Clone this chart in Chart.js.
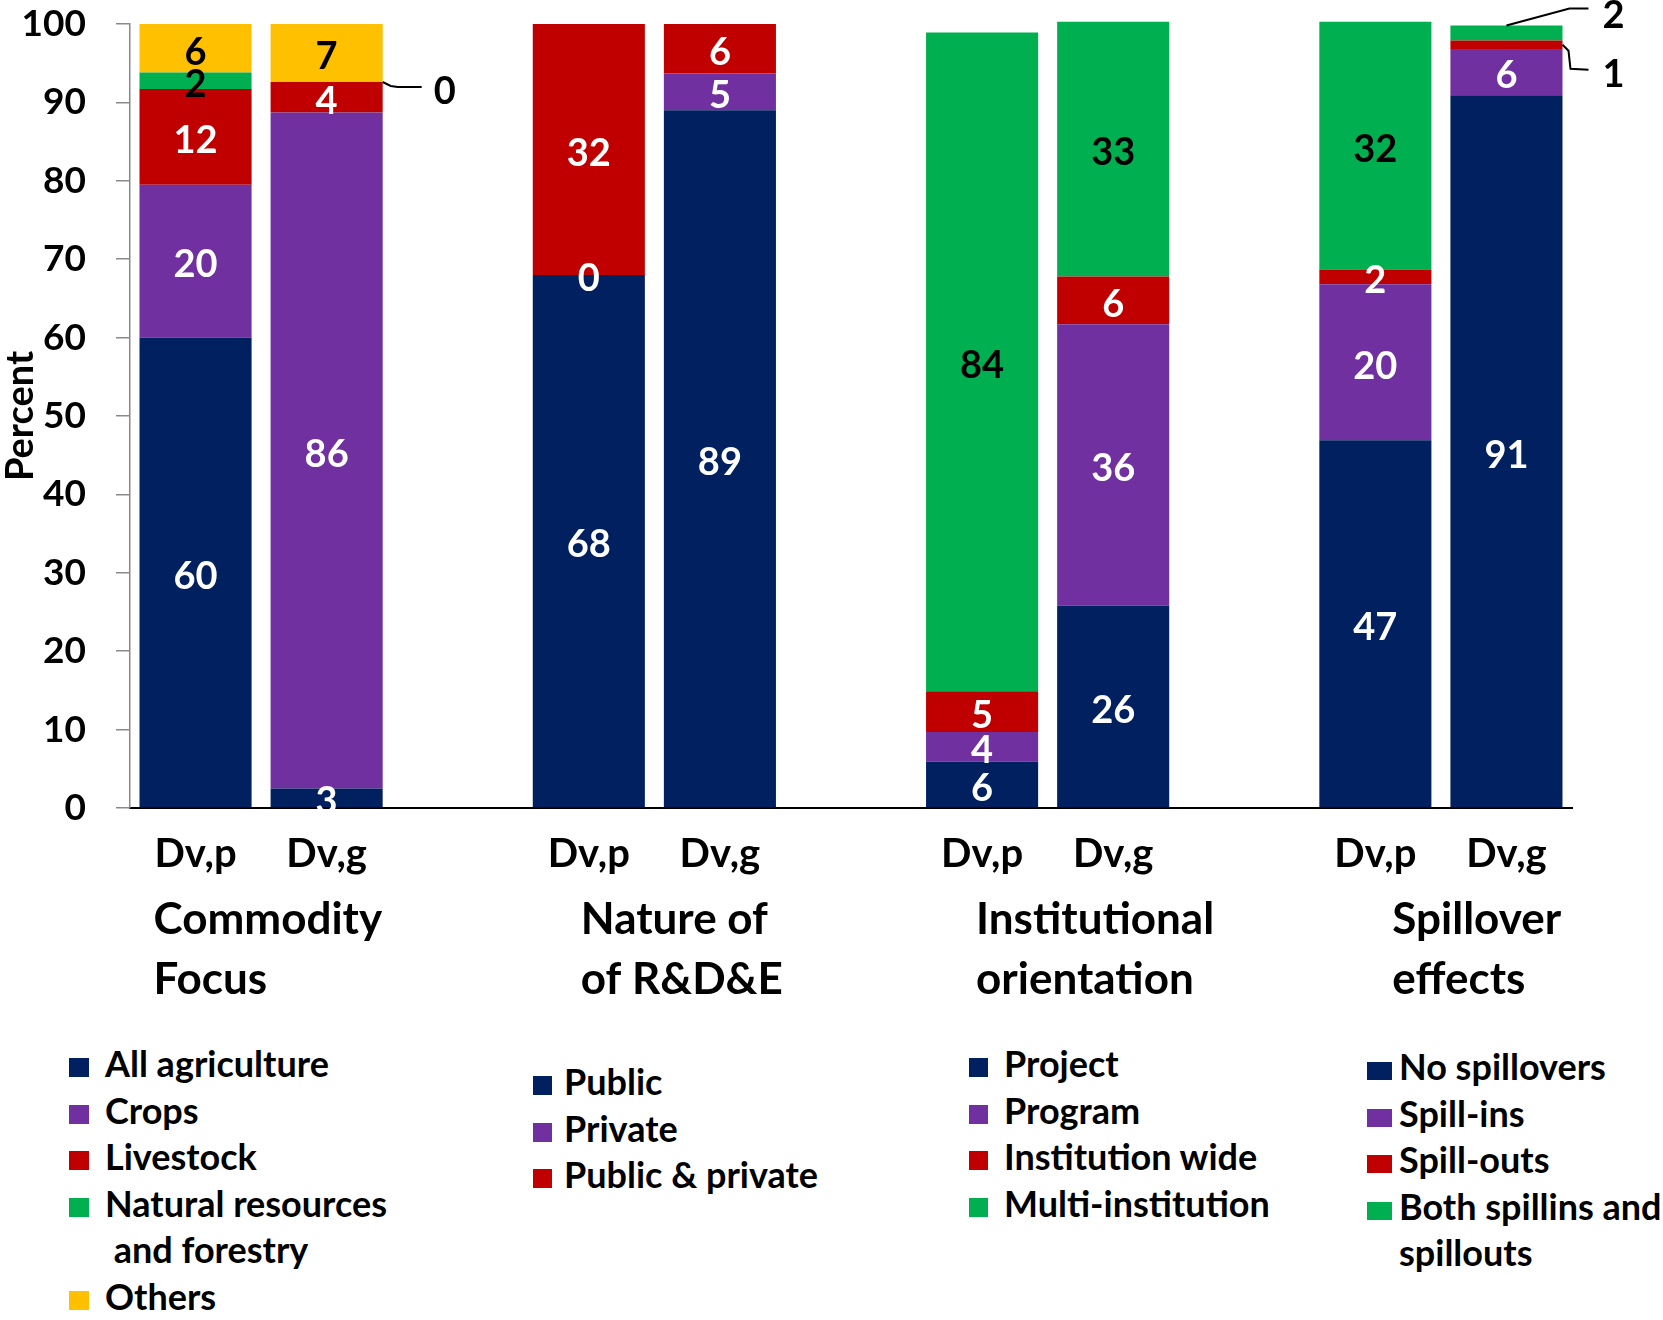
<!DOCTYPE html>
<html lang="en">
<head>
<meta charset="UTF-8">
<meta name="viewport" content="width=device-width, initial-scale=1.0">
<title>R&D&E characteristics, Dv,p and Dv,g</title>
<script src="https://cdn.jsdelivr.net/npm/chart.js"></script>
<style>
  body { margin: 0; background: #fff; }
  #wrap { position: relative; width: 1663px; height: 1320px; }
  #chart-box { position: absolute; left: 0; top: 0; width: 1663px; height: 1010px; }
  .legend-col { position: absolute; font: bold 36px Lato, sans-serif; line-height: 46.6px; color: #000; }
  .legend-item { position: relative; white-space: pre; }
  .legend-item .sw { position: absolute; left: 0; }
</style>
</head>
<body>
<div id="wrap">
  <div id="chart-box"><canvas id="graphique"></canvas></div>
  <div id="legende"></div>
</div>

<script>
// groupes et barres
const groups = ['Commodity\nFocus', 'Nature of\nof R&D&E', 'Institutional\norientation', 'Spillover\neffects'];
const barLabels = ['Dv,p', 'Dv,g'];
const yTickValues = [0, 10, 20, 30, 40, 50, 60, 70, 80, 90, 100];

// Commodity focus
const commoditySeries = ['All agriculture', 'Crops', 'Livestock', 'Natural resources\n and forestry', 'Others'];
const commodityDvp = [60, 19.5, 12.2, 2.1, 6.2];
const commodityDvg = [2.5, 86.2, 3.9, 0, 7.4];

// Nature of R&D&E
const natureSeries = ['Public', 'Private', 'Public & private'];
const natureDvp = [68, 0, 32];
const natureDvg = [89, 4.7, 6.3];

// Institutional orientation
const institutionSeries = ['Project', 'Program', 'Institution wide', 'Multi-institution'];
const institutionDvp = [5.9, 3.8, 5.2, 84];
const institutionDvg = [25.8, 35.9, 6.1, 32.5];

// Spillover effects
const spilloverSeries = ['No spillovers', 'Spill-ins', 'Spill-outs', 'Both spillins and\nspillouts'];
const spilloverDvp = [46.9, 19.9, 1.9, 31.6];
const spilloverDvg = [90.9, 5.9, 1.1, 1.9];

const levelColors = ['#002060', '#7030A0', '#C00000', '#00B050', '#FFC000'];

// étiquettes sorties de la barre (avec trait de rappel)
const callouts = [
    { group: 0, series: 3, bar: 1, anchor: 'right', path: [[8, 4], [15, 5], [39, 5]], text: [62, 8] },
    { group: 3, series: 3, bar: 1, anchor: 'top', path: [[63, -17], [82, -17]], text: [107, -12] },
    { group: 3, series: 2, bar: 1, anchor: 'right', path: [[6, 6], [8, 24], [26, 25]], text: [51, 28] }
];

// décalage des titres de groupe par rapport à la première barre
const titleOffsets = [-42, -8, -6, 17];

const groupData = [
    { series: commoditySeries, values: [commodityDvp, commodityDvg] },
    { series: natureSeries, values: [natureDvp, natureDvg] },
    { series: institutionSeries, values: [institutionDvp, institutionDvg] },
    { series: spilloverSeries, values: [spilloverDvp, spilloverDvg] }
];

// une case vide entre les groupes
const labels = [];
const groupSlots = [];
groups.forEach((g, gi) => {
    if (gi > 0) labels.push('');
    groupSlots.push(labels.length);
    barLabels.forEach(b => labels.push(b));
});

const datasets = [];
groupData.forEach((grp, gi) => {
    grp.series.forEach((name, si) => {
        const data = labels.map(() => null);
        grp.values.forEach((vals, bi) => { data[groupSlots[gi] + bi] = vals[si]; });
        datasets.push({
            label: name.replace(/\n\s*/, ' '),
            legendText: name,
            data: data,
            backgroundColor: levelColors[si],
            borderWidth: 0,
            level: si,
            group: gi,
            stack: 'all',
            barPercentage: 0.855,
            categoryPercentage: 1,
            clip: false
        });
    });
});

const barValueLabels = {
    id: 'barValueLabels',
    afterDatasetsDraw(chart) {
        const ctx = chart.ctx;
        ctx.save();
        ctx.font = 'bold 38px Lato, sans-serif';
        ctx.textAlign = 'center';
        ctx.textBaseline = 'middle';
        chart.data.datasets.forEach((ds, di) => {
            const meta = chart.getDatasetMeta(di);
            meta.data.forEach((el, i) => {
                const v = ds.data[i];
                if (v === null) return;
                const txt = String(Math.round(v));
                const bar = i - groupSlots[ds.group];
                const co = callouts.find(c => c.group === ds.group && c.series === ds.level && c.bar === bar);
                if (co) {
                    let ax, ay;
                    if (co.anchor === 'top') { ax = el.x; ay = el.y; }
                    else { ax = el.x + el.width / 2; ay = (el.y + el.base) / 2; }
                    ctx.strokeStyle = '#000';
                    ctx.lineWidth = 2;
                    ctx.beginPath();
                    ctx.moveTo(ax, ay);
                    co.path.forEach(p => ctx.lineTo(ax + p[0], ay + p[1]));
                    ctx.stroke();
                    ctx.fillStyle = '#000';
                    ctx.fillText(txt, ax + co.text[0], ay + co.text[1] + 2);
                } else {
                    ctx.fillStyle = ds.level >= 3 ? '#000' : '#fff';
                    ctx.fillText(txt, el.x, (el.y + el.base) / 2 + 4);
                }
            });
        });
        ctx.restore();
    }
};

const groupTitles = {
    id: 'groupTitles',
    afterDraw(chart) {
        const ctx = chart.ctx;
        const x = chart.scales.x;
        ctx.save();
        ctx.font = 'bold 44px Lato, sans-serif';
        ctx.fillStyle = '#000';
        ctx.textAlign = 'left';
        ctx.textBaseline = 'middle';
        groups.forEach((g, gi) => {
            const left = x.getPixelForValue(groupSlots[gi]) + titleOffsets[gi];
            g.split('\n').forEach((line, li) => {
                ctx.fillText(line, left, chart.chartArea.bottom + 112 + li * 60);
            });
        });
        ctx.restore();
    }
};

Chart.defaults.font.family = 'Lato, sans-serif';

const chart = new Chart(document.getElementById('graphique'), {
    type: 'bar',
    data: { labels: labels, datasets: datasets },
    options: {
        responsive: true,
        maintainAspectRatio: false,
        animation: false,
        layout: { padding: { top: 24, right: 91, left: 0, bottom: 0 } },
        plugins: {
            legend: { display: false },
            tooltip: { enabled: false }
        },
        scales: {
            x: {
                stacked: true,
                ticks: { font: { size: 40, weight: 'bold' }, color: '#000', padding: 22, autoSkip: false, maxRotation: 0 },
                grid: { display: false, drawTicks: false },
                border: { color: '#000', width: 2 },
                afterFit: s => { s.height = 1010 - 808; s.paddingLeft = 0; s.paddingRight = 0; }
            },
            y: {
                stacked: true,
                min: 0,
                max: 100,
                afterBuildTicks: s => { s.ticks = yTickValues.map(v => ({ value: v })); },
                ticks: { font: { size: 37, weight: 'bold' }, color: '#000', padding: 30 },
                grid: { drawOnChartArea: false, drawTicks: true, tickLength: 14, color: '#8a8a8a', lineWidth: 1.5 },
                border: { color: '#8a8a8a', width: 1.5 },
                title: { display: true, text: 'Percent', font: { size: 38, weight: 'bold', lineHeight: 1 }, color: '#000', padding: { top: 2, bottom: 0 } },
                afterFit: s => { s.width = 130; s.paddingTop = 0; s.paddingBottom = 0; }
            }
        }
    },
    plugins: [barValueLabels, groupTitles]
});

// légende en quatre colonnes
const legendCols = [
    { left: 69, top: 1040, sw: [20, 19], gap: 16 },
    { left: 533, top: 1058, sw: [19, 19], gap: 12 },
    { left: 969, top: 1040, sw: [19, 19], gap: 16 },
    { left: 1367, top: 1043, sw: [25, 18], gap: 7 }
];
const legende = document.getElementById('legende');
legendCols.forEach((col, gi) => {
    const div = document.createElement('div');
    div.className = 'legend-col';
    div.style.left = col.left + 'px';
    div.style.top = col.top + 'px';
    chart.data.datasets.filter(ds => ds.group === gi).forEach(ds => {
        const item = document.createElement('div');
        item.className = 'legend-item';
        item.style.paddingLeft = (col.sw[0] + col.gap) + 'px';
        item.textContent = ds.legendText;
        const sw = document.createElement('span');
        sw.className = 'sw';
        sw.style.width = col.sw[0] + 'px';
        sw.style.height = col.sw[1] + 'px';
        sw.style.top = (37 - col.sw[1]) + 'px';
        sw.style.background = ds.backgroundColor;
        item.prepend(sw);
        div.appendChild(item);
    });
    legende.appendChild(div);
});
</script>
</body>
</html>
